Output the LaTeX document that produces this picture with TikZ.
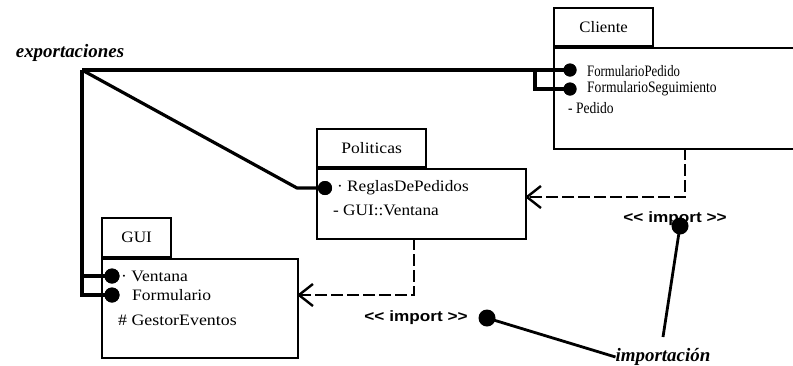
\documentclass[tikz,border=0pt]{standalone}
\usepackage{fontspec}
\usepackage{graphicx}
\setmainfont{Liberation Serif}
\newfontfamily\labsans{Liberation Sans}
\usetikzlibrary{arrows.meta}
\newcommand{\hsc}[2]{\scalebox{#1}[1]{#2}}
\begin{document}
\begin{tikzpicture}[x=1bp,y=-1bp,
  pkgbox/.style={draw, line width=2.3bp, fill=white, inner sep=0pt},
  pkgtab/.style={pkgbox, font=\fontsize{16}{16}\selectfont},
  wire/.style={line width=3.2bp},
  depline/.style={line width=2.4bp, dash pattern=on 12bp off 4bp,
     -{Straight Barb[length=14bp,width=22bp,line width=2.4bp]}},
  ball/.style={circle, fill=black, inner sep=0pt, minimum size=#1},
  ball/.default=13bp,
  item/.style={anchor=west, inner sep=0pt, font=\fontsize{16}{16}\selectfont},
  note/.style={inner sep=0pt, font=\fontsize{19}{19}\selectfont\bfseries\itshape},
  stereo/.style={inner sep=0pt, font=\fontsize{15}{15}\selectfont\labsans\bfseries}
]
\useasboundingbox (0,0) rectangle (793,365);
\fill[white] (0,0) rectangle (793,365);

% packages
\node[pkgbox, anchor=north west, minimum width=247bp, minimum height=101bp] (cli) at (553,47) {};
\node[pkgtab, anchor=south west, minimum width=99bp, minimum height=38bp] (clitab) at (553,47) {\hsc{1.05}{Cliente}};

\node[pkgbox, anchor=north west, minimum width=209bp, minimum height=70bp] (pol) at (316,168) {};
\node[pkgtab, anchor=south west, minimum width=109bp, minimum height=38bp] (poltab) at (316,168) {\hsc{1.1}{Politicas}};

\node[pkgbox, anchor=north west, minimum width=196bp, minimum height=99bp] (gui) at (101,258) {};
\node[pkgtab, anchor=south west, minimum width=69bp, minimum height=39bp] (guitab) at (101,258) {\hsc{1.08}{GUI}};

% dependencies
\coordinate (d1) at (685,148);
\coordinate (d1end) at (525,197);
\draw[depline] (d1) |- (d1end);
\coordinate (d2) at (414,238);
\coordinate (d2end) at (297,295);
\draw[depline] (d2) |- (d2end);

% interface balls
\node[ball=13bp] (cb1) at (570,70) {};
\node[ball=13bp] (cb2) at (570,89) {};
\node[ball=14bp] (pb1) at (325,188) {};
\node[ball=15bp] (gb1) at (112,276) {};
\node[ball=15bp] (gb2) at (112,295) {};

% export wires
\coordinate (ex) at (82,70);
\coordinate (cstep) at (535,70);
\coordinate (pbend) at (297,188);
\coordinate (gstep) at (82,276);
\draw[wire] (ex) -- (cb1.center);
\draw[wire] (cstep) |- (cb2.center);
\draw[wire, line join=round] (ex) -- (pbend) -- (pb1.center);
\draw[wire] (ex) |- (gb2.center);
\draw[wire] (gstep) -- (gb1.center);
\node[ball=13bp] at (cb1) {};
\node[ball=13bp] at (cb2) {};
\node[ball=14bp] at (pb1) {};
\node[ball=15bp] at (gb1) {};
\node[ball=15bp] at (gb2) {};

% items
\node[item] (ci1) at (587,71) {\hsc{0.8}{FormularioPedido}};
\node[item] (ci2) at (587,89) {\hsc{0.85}{FormularioSeguimiento}};
\node[item] (ci3) at (568,108) {\hsc{0.85}{- Pedido}};

\node[item] (pi1) at (337,188) {\hsc{1.08}{· ReglasDePedidos}};
\node[item] (pi2) at (333,210) {\hsc{1.08}{- GUI::Ventana}};

\node[item] (gi1) at (121,276) {\hsc{1.1}{· Ventana}};
\node[item] (gi2) at (132,295) {\hsc{1.1}{Formulario}};
\node[item] (gi3) at (118,320) {\hsc{1.12}{\# GestorEventos}};

% labels
\node[note] (exl) at (70,53) {exportaciones};
\node[note] (impl) at (663,357) {importación};
\node[stereo] (imp1) at (675,219) {\hsc{1.15}{<< import >>}};
\node[stereo] (imp2) at (416,318) {\hsc{1.15}{<< import >>}};
\node[ball=17bp] (ib1) at (680,226) {};
\node[ball=17bp] (ib2) at (487,318) {};
\coordinate (il1) at (663,337);
\draw[line width=2.8bp] (ib1.center) -- (il1);
\draw[line width=2.8bp] (ib2.center) -- (impl.west);
\end{tikzpicture}
\end{document}
